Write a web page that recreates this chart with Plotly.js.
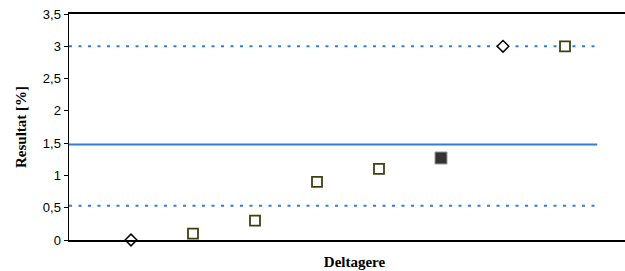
<!DOCTYPE html>
<html>
<head>
<meta charset="utf-8">
<script src="https://cdn.plot.ly/plotly-3.0.1.min.js"></script>
<style>html,body{margin:0;padding:0;background:#fff;overflow:hidden;width:625px;height:271px;}#chart{width:640px;height:271px;}</style>
</head>
<body>
<div id="chart"></div>
<script>
// Data
const diamondX = [1, 7];
const diamondY = [0, 3.0];
const squareX = [2, 3, 4, 5, 8];
const squareY = [0.1, 0.3, 0.9, 1.1, 3.0];
const filledX = [6];
const filledY = [1.27];
const meanValue = 1.48;
const lowerLimit = 0.53;
const upperLimit = 3.0;
const lineSpan = [0, 8.52];
const yTickVals = [0, 0.5, 1, 1.5, 2, 2.5, 3, 3.5];

const blue = '#2f7fd6';
const traces = [
  {x: lineSpan, y: [upperLimit, upperLimit], mode: 'lines', line: {color: blue, width: 2, dash: '3px,6.5px'}, hoverinfo: 'skip'},
  {x: lineSpan, y: [lowerLimit, lowerLimit], mode: 'lines', line: {color: blue, width: 2, dash: '3px,6.5px'}, hoverinfo: 'skip'},
  {x: lineSpan, y: [meanValue, meanValue], mode: 'lines', line: {color: blue, width: 2}, hoverinfo: 'skip'},
  {x: diamondX, y: diamondY, mode: 'markers', cliponaxis: false,
   marker: {symbol: 'diamond', size: 9, color: '#ffffff', line: {color: '#000000', width: 1.5}}},
  {x: squareX, y: squareY, mode: 'markers', cliponaxis: false,
   marker: {symbol: 'square', size: 10, color: '#ffffff', line: {color: '#3f3f14', width: 1.8}}},
  {x: filledX, y: filledY, mode: 'markers', cliponaxis: false,
   marker: {symbol: 'square', size: 12, color: '#333333', line: {color: '#9a9a9a', width: 1}}}
];

const layout = {
  width: 640, height: 271,
  margin: {l: 69, r: 0, t: 14, b: 31, pad: 0},
  paper_bgcolor: '#ffffff', plot_bgcolor: '#ffffff',
  showlegend: false,
  separators: ', ',
  font: {family: 'Liberation Sans, Arial, sans-serif', size: 13, color: '#000'},
  xaxis: {
    range: [0, 571 / 62], showgrid: false, zeroline: false,
    showline: true, mirror: true, linecolor: '#000', linewidth: 2,
    ticks: '', showticklabels: false,
    title: {text: '<b>Deltagere</b>', font: {family: 'Liberation Serif, Times New Roman, serif', size: 15}, standoff: 15}
  },
  yaxis: {
    range: [0, 3.5], showgrid: false, zeroline: false,
    showline: true, linecolor: '#000', linewidth: 1.5,
    ticks: 'outside', ticklen: 4, tickwidth: 1, tickcolor: '#000',
    tickvals: yTickVals, ticktext: yTickVals.map(v => String(v).replace('.', ',')),
    tickfont: {family: 'Liberation Sans, Arial, sans-serif', size: 13},
    title: {text: '<b>Resultat [%]</b>', font: {family: 'Liberation Serif, Times New Roman, serif', size: 15}, standoff: 12}
  }
};

Plotly.newPlot('chart', traces, layout, {staticPlot: true, displayModeBar: false});
</script>
</body>
</html>
